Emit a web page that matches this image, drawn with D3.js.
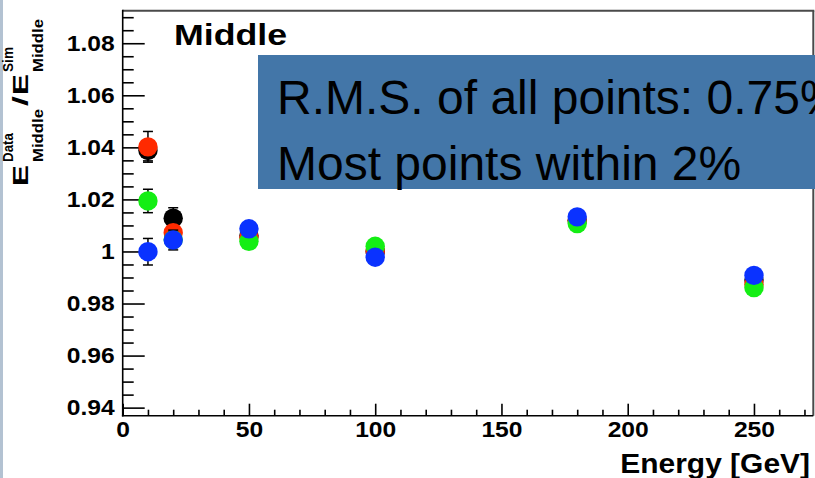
<!DOCTYPE html>
<html>
<head>
<meta charset="utf-8">
<script src="https://cdn.jsdelivr.net/npm/d3@7"></script>
<style>
  html, body { margin: 0; padding: 0; background: #fff; overflow: hidden; }
  svg { display: block; }
  text { font-family: "Liberation Sans", Arial, Helvetica, sans-serif; }
</style>
</head>
<body>
<div id="chart"></div>
<script>
// Beam energies (GeV)
const energies = [10, 20, 50, 100, 180, 250];

// Data/Sim ratio of the middle-layer energy, one array per run set
const seriesNames = ["black", "red", "green", "blue"];
const blackVals = [1.0388, 1.0128, 1.0060, 1.0000, 1.0120, 0.9890];
const redVals   = [1.0402, 1.0072, 1.0055, 1.0002, 1.0118, 0.9874];
const greenVals = [1.0194, 1.0045, 1.0039, 1.0020, 1.0107, 0.9861];
const blueVals  = [0.9999, 1.0044, 1.0087, 0.9978, 1.0133, 0.9908];

// Statistical uncertainties
const blackErr = [0.0040, 0.0040, 0.0020, 0.0020, 0.0020, 0.0020];
const redErr   = [0.0059, 0.0030, 0.0020, 0.0020, 0.0020, 0.0020];
const greenErr = [0.0045, 0.0030, 0.0020, 0.0020, 0.0020, 0.0020];
const blueErr  = [0.0051, 0.0038, 0.0020, 0.0020, 0.0020, 0.0020];

// Axis ticks and labels
const xMajor = [0, 50, 100, 150, 200, 250];
const xTickLabels = ["0", "50", "100", "150", "200", "250"];
const yMajor = [0.94, 0.96, 0.98, 1.00, 1.02, 1.04, 1.06, 1.08];
const yTickLabels = ["0.94", "0.96", "0.98", "1", "1.02", "1.04", "1.06", "1.08"];

const boxLines = ["R.M.S. of all points: 0.75%", "Most points within 2%"];
const panelLabel = "Middle";
const xTitle = "Energy [GeV]";

const W = 815, H = 478;
const frame = { left: 122.7, right: 813.3, top: 10.7, bottom: 415.7 };

const colors = { black: "#000000", red: "#ff2a00", green: "#14ee14", blue: "#0a32ff" };
const series = [
  { name: "black", vals: blackVals, errs: blackErr },
  { name: "red",   vals: redVals,   errs: redErr },
  { name: "green", vals: greenVals, errs: greenErr },
  { name: "blue",  vals: blueVals,  errs: blueErr }
];

const svg = d3.select("#chart").append("svg")
  .attr("width", W).attr("height", H);

svg.append("rect").attr("width", W).attr("height", H).attr("fill", "#fff");
// slide edge strip on the left
svg.append("rect").attr("x", 0).attr("y", 0).attr("width", 3).attr("height", H).attr("fill", "#b3c2d2");

const x = d3.scaleLinear().domain([0, 273.5]).range([frame.left, frame.right]);
const y = d3.scaleLinear().domain([0.9369, 1.0925]).range([frame.bottom, frame.top]);

// frame: top and right edges in grey
svg.append("line").attr("x1", frame.left).attr("x2", frame.right + 1)
  .attr("y1", frame.top).attr("y2", frame.top)
  .attr("stroke", "#4a4a4a").attr("stroke-width", 2);
svg.append("line").attr("x1", frame.right).attr("x2", frame.right)
  .attr("y1", frame.top).attr("y2", frame.bottom)
  .attr("stroke", "#4a4a4a").attr("stroke-width", 2);

const tickFont = 22, tickStretch = 1.12;

// y axis: major and minor ticks pointing into the frame
const yMinor = d3.range(0.940, 1.0925, 0.005).filter(v => !yMajor.some(m => Math.abs(m - v) < 1e-6));
const gyMinor = svg.append("g").attr("transform", `translate(${frame.left},0)`)
  .call(d3.axisLeft(y).tickValues(yMinor).tickSize(-11).tickSizeOuter(0).tickFormat(""));
const gy = svg.append("g").attr("transform", `translate(${frame.left},0)`)
  .call(d3.axisLeft(y).tickValues(yMajor).tickSize(-22).tickSizeOuter(0)
    .tickPadding(8).tickFormat((d, i) => yTickLabels[i]));

// x axis
const xMinor = d3.range(10, 273, 10).filter(v => !xMajor.includes(v));
const gxMinor = svg.append("g").attr("transform", `translate(0,${frame.bottom})`)
  .call(d3.axisBottom(x).tickValues(xMinor).tickSize(-6).tickSizeOuter(0).tickFormat(""));
const gx = svg.append("g").attr("transform", `translate(0,${frame.bottom})`)
  .call(d3.axisBottom(x).tickValues(xMajor).tickSize(-12).tickSizeOuter(0)
    .tickPadding(6).tickFormat((d, i) => xTickLabels[i]));

[gy, gyMinor, gx, gxMinor].forEach(g => {
  g.select(".domain").remove();
  g.selectAll(".tick line").attr("stroke", "#000").attr("stroke-width", 1.6);
});
[gy, gx].forEach(g => {
  g.selectAll(".tick text")
    .attr("font-size", tickFont).attr("font-weight", "bold").attr("fill", "#000");
});
gy.selectAll(".tick text")
  .attr("x", -8 / tickStretch)
  .attr("transform", `scale(${tickStretch},1)`);
gx.selectAll(".tick text")
  .attr("transform", `scale(${tickStretch},1)`);

// axis lines
svg.append("line").attr("x1", frame.left).attr("x2", frame.left)
  .attr("y1", frame.top - 1).attr("y2", frame.bottom + 0.8)
  .attr("stroke", "#000").attr("stroke-width", 1.6);
svg.append("line").attr("x1", frame.left - 0.8).attr("x2", frame.right)
  .attr("y1", frame.bottom).attr("y2", frame.bottom)
  .attr("stroke", "#000").attr("stroke-width", 1.6);

// data points: each graph draws its error bars, then its markers
const plot = svg.append("g");
const capHalf = 5, markerR = 9.7;
series.forEach(s => {
  const g = plot.append("g");
  const pts = energies.map((e, i) => ({ e, v: s.vals[i], err: s.errs[i] }));
  const eb = g.selectAll("g.err").data(pts).enter().append("g").attr("class", "err")
    .attr("stroke", "#000").attr("stroke-width", 1.5);
  eb.append("line")
    .attr("x1", d => x(d.e)).attr("x2", d => x(d.e))
    .attr("y1", d => y(d.v + d.err)).attr("y2", d => y(d.v - d.err));
  eb.append("line")
    .attr("x1", d => x(d.e) - capHalf).attr("x2", d => x(d.e) + capHalf)
    .attr("y1", d => y(d.v + d.err)).attr("y2", d => y(d.v + d.err));
  eb.append("line")
    .attr("x1", d => x(d.e) - capHalf).attr("x2", d => x(d.e) + capHalf)
    .attr("y1", d => y(d.v - d.err)).attr("y2", d => y(d.v - d.err));
  g.selectAll("circle").data(pts).enter().append("circle")
    .attr("cx", d => x(d.e)).attr("cy", d => y(d.v))
    .attr("r", markerR).attr("fill", colors[s.name]);
});

// panel label
svg.append("text")
  .attr("transform", `translate(174,45) scale(1.19,1)`)
  .attr("font-size", 30).attr("font-weight", "bold").attr("fill", "#000")
  .text(panelLabel);

// x axis title
svg.append("text")
  .attr("transform", `translate(810,473) scale(1.07,1)`)
  .attr("text-anchor", "end")
  .attr("font-size", 28).attr("font-weight", "bold").attr("fill", "#000")
  .text(xTitle);

// y axis title: E^{Data}_{Middle} / E^{Sim}_{Middle}
const yt = svg.append("g").attr("transform", "translate(28,186) rotate(-90)")
  .attr("font-weight", "bold").attr("fill", "#000");
const piece = (str, px, py, size, len) => yt.append("text")
  .attr("x", px).attr("y", py).attr("font-size", size)
  .attr("textLength", len).attr("lengthAdjust", "spacingAndGlyphs").text(str);
piece("E", 0, 0, 22, 21);
piece("Data", 24, -15, 15, 29);
piece("Middle", 24, 15, 15, 53);
piece("/", 80, 0, 22, 10);
piece("E", 91, 0, 22, 21);
piece("Sim", 114, -15, 15, 25);
piece("Middle", 114, 15, 15, 53);

// summary box
svg.append("rect").attr("x", 258).attr("y", 55).attr("width", W - 258 + 2).attr("height", 134)
  .attr("fill", "#4376a8");
svg.append("g").selectAll("text").data(boxLines).enter().append("text")
  .attr("x", 277).attr("y", (d, i) => 114 + i * 66)
  .attr("font-size", 48).attr("fill", "#000")
  .text(d => d);
</script>
</body>
</html>
